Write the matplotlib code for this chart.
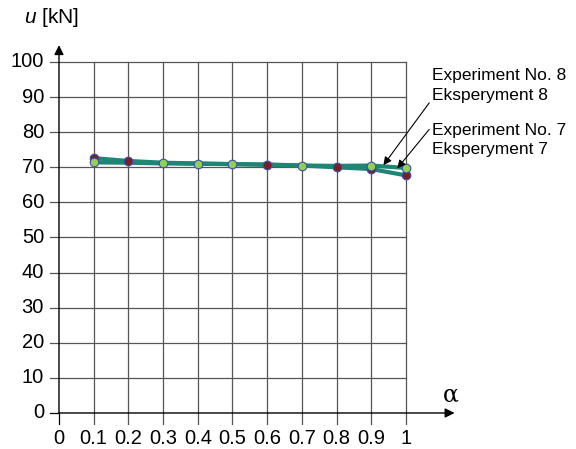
import numpy as np
import matplotlib
matplotlib.use("Agg")
import matplotlib.pyplot as plt

plt.rcParams['font.family'] = ['Liberation Sans', 'DejaVu Sans']
plt.rcParams['mathtext.fontset'] = 'custom'
plt.rcParams['mathtext.it'] = 'Liberation Sans:italic'
plt.rcParams['mathtext.rm'] = 'Liberation Sans'

alpha = [0.1, 0.2, 0.3, 0.4, 0.5, 0.6, 0.7, 0.8, 0.9, 1.0]
exp7 = [71.4, 71.3, 71.1, 71.0, 70.9, 70.8, 70.5, 70.4, 70.5, 69.8]
exp8 = [72.6, 71.8, 71.3, 71.1, 70.9, 70.7, 70.5, 70.0, 69.5, 67.7]
# which markers are visible on top in the original
marks7 = [0, 2, 3, 4, 6, 8, 9]
marks8 = [0, 1, 5, 7, 8, 9]

xticks = [0, 0.1, 0.2, 0.3, 0.4, 0.5, 0.6, 0.7, 0.8, 0.9, 1]
xticklabels = ['0', '0.1', '0.2', '0.3', '0.4', '0.5', '0.6', '0.7', '0.8', '0.9', '1']
yticks = list(range(0, 101, 10))

fig = plt.figure(figsize=(5.76, 4.49), dpi=100)
ax = fig.add_axes([0, 0, 1, 1])
ax.set_xlim(-0.170, 1.490)
ax.set_ylim(-10.26, 117.66)
ax.axis('off')

grid_c = '#555555'
for x in xticks[1:]:
    ax.plot([x, x], [-3.1, 100], color=grid_c, lw=0.9, zorder=1)
ax.plot([0, 0], [-3.1, 0], color='black', lw=0.9, zorder=1)
for y in yticks[1:]:
    ax.plot([-0.026, 1], [y, y], color=grid_c, lw=0.9, zorder=1)
ax.plot([-0.026, 0], [0, 0], color='black', lw=0.9, zorder=1)

# axes with arrows
ax.annotate('', xy=(1.14, 0), xytext=(0, 0),
            arrowprops=dict(arrowstyle='-|>', color='black', lw=1.0,
                            mutation_scale=14, shrinkA=0, shrinkB=0), zorder=2)
ax.annotate('', xy=(0, 104.8), xytext=(0, 0),
            arrowprops=dict(arrowstyle='-|>', color='black', lw=1.0,
                            mutation_scale=14, shrinkA=0, shrinkB=0), zorder=2)

for x, lab in zip(xticks, xticklabels):
    ax.text(x, -7.4, lab, ha='center', va='center', fontsize=14.5)
for y in yticks:
    ax.text(-0.043, y, str(y), ha='right', va='center', fontsize=14.5)

ax.text(-0.102, 112.6, r'$u$ [kN]', ha='left', va='center', fontsize=15)
ax.text(1.105, 5.0, 'α', ha='left', va='center', fontsize=17, family='DejaVu Serif')

line_c = '#1f8575'
ax.plot(alpha, exp8, color=line_c, lw=3, zorder=3)
ax.plot(alpha, exp7, color=line_c, lw=3, zorder=3)
ax.plot(alpha, exp8, linestyle='none', marker='o', markersize=6.2,
        markerfacecolor='#7a1f24', markeredgecolor='#3b4fb0', markeredgewidth=0.8,
        markevery=marks8, zorder=4)
ax.plot(alpha, exp7, linestyle='none', marker='o', markersize=6.2,
        markerfacecolor='#92d050', markeredgecolor='#3b4fb0', markeredgewidth=0.8,
        markevery=marks7, zorder=5)

ax.annotate('Experiment No. 8\nEksperyment 8', xy=(0.935, 70.6), xytext=(1.075, 93.4),
            ha='left', va='center', fontsize=12.5, linespacing=1.4,
            arrowprops=dict(arrowstyle='-|>', color='black', lw=0.8,
                            mutation_scale=12, shrinkA=0, shrinkB=0,
                            relpos=(0, 0.1)), zorder=6)
ax.annotate('Experiment No. 7\nEksperyment 7', xy=(0.975, 69.7), xytext=(1.075, 77.8),
            ha='left', va='center', fontsize=12.5, linespacing=1.4,
            arrowprops=dict(arrowstyle='-|>', color='black', lw=0.8,
                            mutation_scale=12, shrinkA=0, shrinkB=0,
                            relpos=(0, 0.9)), zorder=6)

fig.savefig('out.png', dpi=100)
